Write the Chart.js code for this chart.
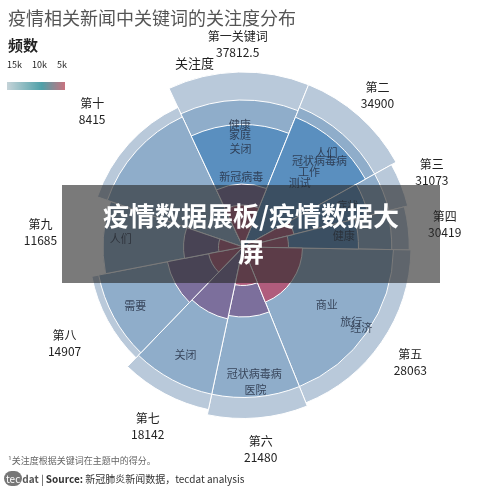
<!DOCTYPE html>
<html><head><meta charset="utf-8">
<script src="https://cdn.jsdelivr.net/npm/chart.js@4"></script>
<style>body{margin:0;background:#fff;font-family:"Noto Sans CJK SC",sans-serif}#w{position:relative;width:500px;height:492px}</style>
</head><body><div id="w"><canvas id="c" width="500" height="492"></canvas></div>
<script>
const topics=['第一关键词','第二','第三','第四','第五','第六','第七','第八','第九','第十'];
const attention=['37812.5','34900','31073','30419','28063','21480','18142','14907','11685','8415'];
const angles=[47,39,15,15,67,34,32,35,30,46];
const layerOuter=[100,100,97,95,96,98,95,88,80,88];
const layerMid=[84,86,86,85,86,86,86,84,80,82];
const layerBlue=[70,80,74,66,0,0,0,0,0,0];
const layerPurple=[36,0,0,0,30,40,42,44,34,0];
const layerRed=[24,0,30,26,34,22,0,20,14,0];
const keywords=[[0,70,'健康'],[0,64,'家庭'],[0,56,'关闭'],[0,40,'新冠病毒'],[1,72,'人们'],[1,66,'冠状病毒病'],[1,57,'工作'],[1,49,'测试'],[2,64,'症状'],[3,58,'健康'],[4,58,'商业'],[4,75,'旅行'],[4,82,'经济'],[5,82,'医院'],[5,73,'冠状病毒病'],[6,70,'关闭'],[7,70,'需要'],[8,70,'人们']];
const start=-25;
function mid(i){let s=start;for(let k=0;k<i;k++)s+=angles[k];return (s+angles[i]/2)*Math.PI/180;}
const mk=(d,c)=>({data:d,backgroundColor:c,borderColor:'#fff',borderWidth:1,angle:ctx=>angles[ctx.dataIndex]});
const overlay={id:'ov',afterDraw(ch){const x=ch.ctx,s=ch.scales.r,cx=s.xCenter,cy=s.yCenter;
 x.save();x.textAlign='center';x.textBaseline='middle';
 x.font='11px "Noto Sans CJK SC"';x.fillStyle='rgba(40,50,70,0.85)';
 keywords.forEach(([t,v,w])=>{const a=mid(t),r=s.getDistanceFromCenterForValue(v);x.fillText(w,cx+r*Math.sin(a),cy-r*Math.cos(a));});
 x.fillStyle='#222';x.font='12px "Noto Sans CJK SC"';
 topics.forEach((t,i)=>{const a=mid(i),r=s.drawingArea+28;const px=cx+r*Math.sin(a),py=cy-r*Math.cos(a);x.fillText(t,px,py-8);x.fillText(attention[i],px,py+8);});
 x.restore();}};
new Chart(document.getElementById('c'),{type:'polarArea',
 data:{labels:topics,datasets:[mk(layerRed,'#b05c7c'),mk(layerPurple,'#7c6f9c'),mk(layerBlue,'#5a8fbf'),mk(layerMid,'#8fadca'),mk(layerOuter,'#b9c9da')]},
 options:{responsive:false,animation:false,layout:{padding:{left:61,right:75,top:72,bottom:70}},
  plugins:{legend:{display:false},tooltip:{enabled:false}},
  scales:{r:{startAngle:start,min:0,max:100,ticks:{display:false,stepSize:10},grid:{color:'rgba(255,255,255,0.7)',borderDash:[2,3]},angleLines:{display:false},pointLabels:{display:false}}}},
 plugins:[overlay]});
</script>
<div style="position:absolute;left:8px;top:4px;font-size:18px;color:#555">疫情相关新闻中关键词的关注度分布</div>
<div style="position:absolute;left:8px;top:34px;font-size:15px;font-weight:bold;color:#222">频数</div>
<div style="position:absolute;left:7px;top:58px;font-size:9px;color:#222;word-spacing:8px">15k 10k 5k</div>
<div style="position:absolute;left:7px;top:82px;width:58px;height:8px;background:linear-gradient(90deg,#c5d3d8,#4fa0a8 60%,#c9727f)"></div>
<div style="position:absolute;left:175px;top:53px;font-size:13px;color:#222">关注度</div>
<div style="position:absolute;left:62px;top:185px;width:378px;height:98px;background:rgba(40,40,40,0.62);color:#fff;font-weight:bold;font-size:26px;text-align:center;line-height:36px;padding-top:12px;box-sizing:border-box">疫情数据展板/疫情数据大<br>屏</div>
<div style="position:absolute;left:8px;top:454px;font-size:9px;color:#666">¹关注度根据关键词在主题中的得分。</div>
<div style="position:absolute;left:4px;top:471px;font-size:10px;color:#333"><span style="background:#777;color:#fff;border-radius:8px;padding:0 2px">tec</span><b style="color:#555">dat</b> | <b>Source:</b> 新冠肺炎新闻数据，tecdat analysis</div>
</div></body></html>
